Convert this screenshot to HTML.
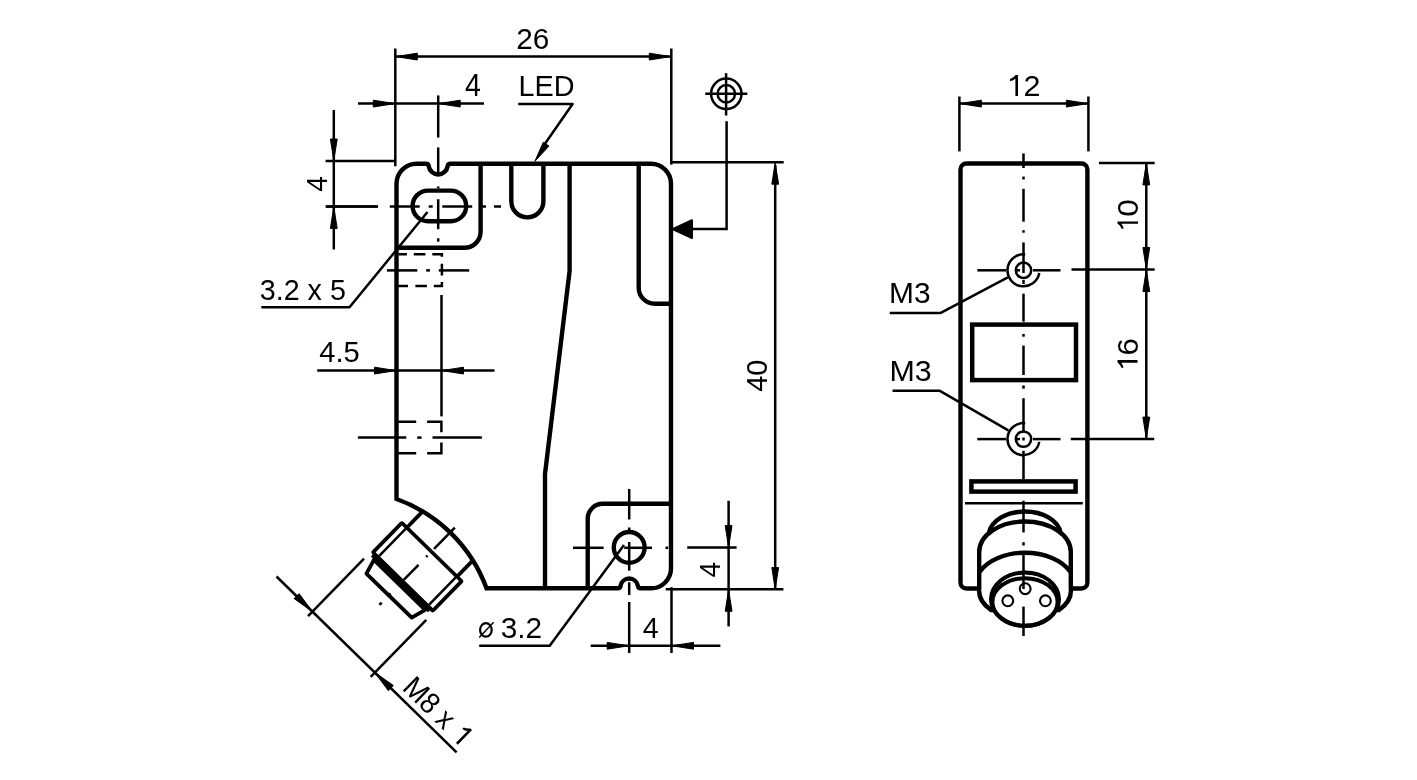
<!DOCTYPE html>
<html><head><meta charset="utf-8"><style>
html,body{margin:0;padding:0;background:#fff;width:1417px;height:780px;overflow:hidden}
svg{display:block;will-change:transform}
text{font-family:"Liberation Sans",sans-serif;fill:#000;stroke:none}
</style></head><body>
<svg width="1417" height="780" viewBox="0 0 1417 780" fill="none" stroke="#000" stroke-linecap="butt">
<path d="M396.5,183.8 A20,20 0 0 1 416.5,163.8 L425.83,163.80 A3,3 0 0 1 428.80,166.37 A9.5,9.5 0 0 0 447.60,166.37 A3,3 0 0 1 450.57,163.80 L651.0,163.8 A20,20 0 0 1 671.0,183.8 L671.0,568.3 A20,20 0 0 1 651.0,588.3 L640.83,588.30 A3,3 0 0 1 637.87,585.81 A8.8,8.8 0 0 0 620.53,585.81 A3,3 0 0 1 617.57,588.30 L486.5,588.3 A149.5,149.5 0 0 0 396.5,499.05 Z" stroke-width="4.4" />
<path d="M480.6,163.8 L480.6,231.8 A16,16 0 0 1 464.6,247.8 L396.5,247.8" stroke-width="4.4" />
<rect x="412.6" y="190.6" width="53.6" height="30.6" rx="15.3" stroke-width="4.4"/>
<path d="M511.3,163.8 L511.3,201.3 A16.05,16.05 0 0 0 543.4,201.3 L543.4,163.8" stroke-width="4.4" />
<path d="M569.6,163.8 L569.6,271 L545,474 L545,588.3" stroke-width="4.4" stroke-linejoin="round"/>
<path d="M638.7,163.8 L638.7,287.7 A16,16 0 0 0 654.7,303.7 L671.0,303.7" stroke-width="4.4" />
<path d="M587.7,588.3 L587.7,518.8 A15,15 0 0 1 602.7,503.8 L671.0,503.8" stroke-width="4.4" />
<circle cx="629.2" cy="547.4" r="15.4" stroke-width="4.4"/>
<path d="M398.5,254.2 H406.9 M413.8,254.2 H425.4 M432.3,254.2 H441.9 V256.8 M441.9,263.8 V275.4 M441.9,282 V285.9 H433.8 M426.9,285.9 H415.4 M408,285.9 H396.5" stroke-width="2.5" />
<path d="M396.5,421.8 H416.2 M427.1,421.8 H441.4 V432.2 M441.4,442.5 V453.2 H427.1 M416.2,453.2 H396.5" stroke-width="2.5" />
<line x1="441.50" y1="295.00" x2="441.50" y2="416.40" stroke-width="2.5" />
<line x1="386.90" y1="270.40" x2="417.30" y2="270.40" stroke-width="2.5" />
<line x1="426.20" y1="270.40" x2="430.00" y2="270.40" stroke-width="2.5" />
<line x1="438.80" y1="270.40" x2="469.20" y2="270.40" stroke-width="2.5" />
<line x1="357.90" y1="437.60" x2="406.30" y2="437.60" stroke-width="2.5" />
<line x1="417.20" y1="437.60" x2="421.60" y2="437.60" stroke-width="2.5" />
<line x1="432.50" y1="437.60" x2="481.90" y2="437.60" stroke-width="2.5" />
<line x1="438.20" y1="95.40" x2="438.20" y2="137.60" stroke-width="2.5" />
<line x1="438.20" y1="147.40" x2="438.20" y2="176.00" stroke-width="2.5" />
<line x1="438.20" y1="186.50" x2="438.20" y2="188.50" stroke-width="2.5" />
<line x1="438.20" y1="199.20" x2="438.20" y2="229.20" stroke-width="2.5" />
<line x1="438.20" y1="238.30" x2="438.20" y2="241.70" stroke-width="2.5" />
<line x1="326.00" y1="206.50" x2="378.00" y2="206.50" stroke-width="2.5" />
<line x1="389.80" y1="206.50" x2="419.70" y2="206.50" stroke-width="2.5" />
<line x1="428.70" y1="206.50" x2="432.70" y2="206.50" stroke-width="2.5" />
<line x1="442.30" y1="206.50" x2="472.20" y2="206.50" stroke-width="2.5" />
<line x1="482.00" y1="206.50" x2="486.00" y2="206.50" stroke-width="2.5" />
<line x1="494.00" y1="206.50" x2="501.00" y2="206.50" stroke-width="2.5" />
<line x1="629.20" y1="489.00" x2="629.20" y2="519.50" stroke-width="2.5" />
<line x1="629.20" y1="527.50" x2="629.20" y2="530.50" stroke-width="2.5" />
<line x1="629.20" y1="542.00" x2="629.20" y2="570.60" stroke-width="2.5" />
<line x1="629.20" y1="582.30" x2="629.20" y2="595.00" stroke-width="2.5" />
<line x1="629.20" y1="602.00" x2="629.20" y2="653.00" stroke-width="2.5" />
<line x1="573.00" y1="547.80" x2="603.60" y2="547.80" stroke-width="2.5" />
<line x1="613.00" y1="547.80" x2="616.00" y2="547.80" stroke-width="2.5" />
<line x1="624.20" y1="547.80" x2="652.00" y2="547.80" stroke-width="2.5" />
<line x1="665.50" y1="547.80" x2="668.20" y2="547.80" stroke-width="2.5" />
<line x1="317.20" y1="370.60" x2="494.50" y2="370.60" stroke-width="2.5" />
<polygon points="396.00,370.60 374.50,374.00 374.50,367.20" fill="#000" stroke="#000" stroke-width="1.0" stroke-linejoin="round"/>
<polygon points="442.00,370.60 463.50,367.20 463.50,374.00" fill="#000" stroke="#000" stroke-width="1.0" stroke-linejoin="round"/>
<text transform="translate(319.33 361.61) scale(0.9746 1)" font-size="29.81">4.5</text>
<line x1="395.30" y1="48.50" x2="395.30" y2="166.30" stroke-width="2.5" />
<line x1="671.30" y1="48.50" x2="671.30" y2="164.60" stroke-width="2.5" />
<line x1="395.30" y1="56.60" x2="671.30" y2="56.60" stroke-width="2.5" />
<polygon points="395.80,56.60 417.30,53.20 417.30,60.00" fill="#000" stroke="#000" stroke-width="1.0" stroke-linejoin="round"/>
<polygon points="670.80,56.60 649.30,60.00 649.30,53.20" fill="#000" stroke="#000" stroke-width="1.0" stroke-linejoin="round"/>
<text transform="translate(516.30 48.61) scale(1.0180 1)" font-size="29.24">26</text>
<line x1="358.00" y1="103.60" x2="484.00" y2="103.60" stroke-width="2.5" />
<polygon points="394.80,103.60 373.30,107.00 373.30,100.20" fill="#000" stroke="#000" stroke-width="1.0" stroke-linejoin="round"/>
<polygon points="438.70,103.60 460.20,100.20 460.20,107.00" fill="#000" stroke="#000" stroke-width="1.0" stroke-linejoin="round"/>
<text transform="translate(464.94 95.80) scale(0.9362 1)" font-size="30.52">4</text>
<line x1="325.60" y1="161.00" x2="395.30" y2="161.00" stroke-width="2.5" />
<line x1="325.60" y1="206.50" x2="378.00" y2="206.50" stroke-width="2.5" />
<line x1="333.80" y1="110.00" x2="333.80" y2="249.50" stroke-width="2.5" />
<polygon points="333.80,160.50 330.40,139.00 337.20,139.00" fill="#000" stroke="#000" stroke-width="1.0" stroke-linejoin="round"/>
<polygon points="333.80,207.00 337.20,228.50 330.40,228.50" fill="#000" stroke="#000" stroke-width="1.0" stroke-linejoin="round"/>
<text transform="translate(327.20 191.64) rotate(-90) scale(0.9625 1)" font-size="29.07">4</text>
<text transform="translate(259.81 299.61) scale(0.9669 1)" font-size="29.66">3.2 x 5</text>
<path d="M261.3,307.3 L349.5,307.3 L427.5,212" stroke-width="2.5" stroke-linejoin="round"/>
<text transform="translate(518.54 95.90) scale(0.9668 1)" font-size="29.80">LED</text>
<path d="M518.2,104 L572.6,104 L542,148" stroke-width="2.5" stroke-linejoin="round"/>
<polygon points="534.88,161.28 543.31,142.29 548.99,146.03" fill="#000" stroke="#000" stroke-width="1.0" stroke-linejoin="round"/>
<circle cx="726.3" cy="93.8" r="15.2" stroke-width="2.5"/>
<circle cx="726.3" cy="93.8" r="8.7" stroke-width="2.5"/>
<line x1="705.30" y1="93.80" x2="747.30" y2="93.80" stroke-width="2.5" />
<line x1="726.10" y1="73.20" x2="726.10" y2="115.50" stroke-width="2.5" />
<path d="M726.6,121.3 L726.6,229.1 L690,229.1" stroke-width="2.5" />
<polygon points="672.5,229.1 692,220.2 692,238" fill="#000" stroke="#000" stroke-width="2" stroke-linejoin="round"/>
<line x1="671.30" y1="162.20" x2="783.70" y2="162.20" stroke-width="2.5" />
<line x1="775.20" y1="165.00" x2="775.20" y2="589.50" stroke-width="2.5" />
<polygon points="775.20,162.70 778.60,184.20 771.80,184.20" fill="#000" stroke="#000" stroke-width="1.0" stroke-linejoin="round"/>
<polygon points="775.20,589.00 771.80,567.50 778.60,567.50" fill="#000" stroke="#000" stroke-width="1.0" stroke-linejoin="round"/>
<line x1="665.80" y1="589.30" x2="783.40" y2="589.30" stroke-width="2.5" />
<text transform="translate(767.01 391.86) rotate(-90) scale(0.9852 1)" font-size="29.38">40</text>
<line x1="728.60" y1="500.80" x2="728.60" y2="626.40" stroke-width="2.5" />
<line x1="687.20" y1="547.60" x2="736.60" y2="547.60" stroke-width="2.5" />
<polygon points="728.60,547.10 725.20,525.60 732.00,525.60" fill="#000" stroke="#000" stroke-width="1.0" stroke-linejoin="round"/>
<polygon points="728.60,589.80 732.00,611.30 725.20,611.30" fill="#000" stroke="#000" stroke-width="1.0" stroke-linejoin="round"/>
<text transform="translate(720.30 577.54) rotate(-90) scale(0.9483 1)" font-size="29.51">4</text>
<line x1="671.50" y1="587.20" x2="671.50" y2="653.00" stroke-width="2.5" />
<line x1="590.70" y1="645.80" x2="720.40" y2="645.80" stroke-width="2.5" />
<polygon points="628.70,645.80 607.20,649.20 607.20,642.40" fill="#000" stroke="#000" stroke-width="1.0" stroke-linejoin="round"/>
<polygon points="672.00,645.80 693.50,642.40 693.50,649.20" fill="#000" stroke="#000" stroke-width="1.0" stroke-linejoin="round"/>
<text transform="translate(642.64 637.70) scale(0.9685 1)" font-size="29.51">4</text>
<ellipse cx="485.9" cy="629.9" rx="5.8" ry="6.75" stroke-width="2.2"/>
<line x1="479.20" y1="637.50" x2="493.60" y2="622.30" stroke-width="1.4" />
<text transform="translate(500.66 637.92) scale(1.0294 1)" font-size="28.95">3.2</text>
<path d="M479.2,645.8 L549.7,645.8 L624,545" stroke-width="2.5" stroke-linejoin="round"/>
<g transform="rotate(44.3)">
<line x1="659.70" y1="71.50" x2="659.70" y2="94.00" stroke-width="3.8" />
<line x1="729.80" y1="71.50" x2="729.80" y2="94.00" stroke-width="3.8" />
<rect x="652.75" y="93.5" width="83.6" height="41.3" rx="1" stroke-width="3.8"/>
<line x1="659.70" y1="95.00" x2="659.70" y2="133.00" stroke-width="2.5" />
<line x1="729.50" y1="95.00" x2="729.50" y2="133.00" stroke-width="2.5" />
<path d="M658.6,139.5 L662.8,154.6 L726,154.4 L730.2,139.5 Z" stroke-width="3.8" stroke-linejoin="round"/>
<line x1="654.00" y1="137.30" x2="734.00" y2="137.30" stroke-width="3.8" />
<line x1="694.00" y1="59.90" x2="694.00" y2="89.70" stroke-width="2.5" />
<line x1="694.00" y1="99.00" x2="694.00" y2="101.00" stroke-width="2.5" />
<line x1="694.00" y1="111.90" x2="694.00" y2="133.10" stroke-width="2.5" />
<line x1="694.00" y1="152.00" x2="694.00" y2="154.00" stroke-width="2.5" />
<line x1="694.00" y1="164.60" x2="694.00" y2="168.00" stroke-width="2.5" />
<line x1="650.75" y1="145.60" x2="650.75" y2="225.80" stroke-width="2.5" />
<line x1="738.10" y1="146.00" x2="738.10" y2="225.60" stroke-width="2.5" />
<line x1="600.50" y1="219.50" x2="852.20" y2="219.50" stroke-width="2.5" />
<polygon points="650.25,219.50 628.75,222.90 628.75,216.10" fill="#000" stroke="#000" stroke-width="1.0" stroke-linejoin="round"/>
<polygon points="738.60,219.50 760.10,216.10 760.10,222.90" fill="#000" stroke="#000" stroke-width="1.0" stroke-linejoin="round"/>
<text transform="translate(768.25 212.91) scale(0.9309 1)" font-size="29.52">M8 x</text>
<path d="M847.70,192.80 L847.70,213.20 L845.16,213.20 L845.16,196.57 Q843.20,198.31 840.00,198.92 L840.00,196.88 Q843.61,195.35 845.39,192.80 Z" fill="#000" stroke="none"/>
</g>
<path d="M979.2,588.5 L966.5,588.5 A6,6 0 0 1 960.5,582.5 L960.5,169.5 A6,6 0 0 1 966.5,163.5 L1081.4,163.5 A6,6 0 0 1 1087.4,169.5 L1087.4,582.5 A6,6 0 0 1 1081.4,588.5 L1070.8,588.5" stroke-width="4.4" />
<rect x="972.2" y="324.6" width="103.8" height="55.5" stroke-width="4.5"/>
<rect x="971.4" y="481.4" width="104.2" height="10.2" stroke-width="4.5"/>
<line x1="965.00" y1="503.30" x2="1082.80" y2="503.30" stroke-width="2.5" />
<line x1="959.40" y1="96.50" x2="959.40" y2="151.40" stroke-width="2.5" />
<line x1="1088.40" y1="96.50" x2="1088.40" y2="151.40" stroke-width="2.5" />
<line x1="959.40" y1="103.60" x2="1088.40" y2="103.60" stroke-width="2.5" />
<polygon points="959.90,103.60 981.40,100.20 981.40,107.00" fill="#000" stroke="#000" stroke-width="1.0" stroke-linejoin="round"/>
<polygon points="1087.90,103.60 1066.40,107.00 1066.40,100.20" fill="#000" stroke="#000" stroke-width="1.0" stroke-linejoin="round"/>
<path d="M1018.00,74.90 L1018.00,95.90 L1015.40,95.90 L1015.40,78.79 Q1013.35,80.57 1010.00,81.20 L1010.00,79.10 Q1013.78,77.53 1015.64,74.90 Z" fill="#000" stroke="none"/>
<text transform="translate(1023.57 95.90) scale(1.0145 1)" font-size="30.08">2</text>
<line x1="1099.00" y1="162.90" x2="1154.70" y2="162.90" stroke-width="2.5" />
<line x1="1071.50" y1="269.50" x2="1154.70" y2="269.50" stroke-width="2.5" />
<line x1="1070.80" y1="439.10" x2="1154.20" y2="439.10" stroke-width="2.5" />
<line x1="1146.30" y1="162.90" x2="1146.30" y2="439.10" stroke-width="2.5" />
<polygon points="1146.30,163.40 1149.70,184.90 1142.90,184.90" fill="#000" stroke="#000" stroke-width="1.0" stroke-linejoin="round"/>
<polygon points="1146.30,269.00 1142.90,247.50 1149.70,247.50" fill="#000" stroke="#000" stroke-width="1.0" stroke-linejoin="round"/>
<polygon points="1146.30,270.00 1149.70,291.50 1142.90,291.50" fill="#000" stroke="#000" stroke-width="1.0" stroke-linejoin="round"/>
<polygon points="1146.30,438.60 1142.90,417.10 1149.70,417.10" fill="#000" stroke="#000" stroke-width="1.0" stroke-linejoin="round"/>
<text transform="translate(1138.41 216.83) rotate(-90) scale(1.0480 1)" font-size="29.94">0</text>
<path d="M-221.40,1117.50 L-221.40,1138.00 L-223.84,1138.00 L-223.84,1121.29 Q-225.73,1123.04 -228.80,1123.65 L-228.80,1121.60 Q-225.33,1120.06 -223.62,1117.50 Z" fill="#000" stroke="none" transform="rotate(-90)"/>
<text transform="translate(1138.01 355.58) rotate(-90) scale(1.0623 1)" font-size="29.38">6</text>
<path d="M-360.10,1117.50 L-360.10,1137.50 L-362.64,1137.50 L-362.64,1121.20 Q-364.60,1122.90 -367.80,1123.50 L-367.80,1121.50 Q-364.19,1120.00 -362.41,1117.50 Z" fill="#000" stroke="none" transform="rotate(-90)"/>
<circle cx="1023.5" cy="270.3" r="7.7" stroke-width="2.5"/>
<path d="M1025.2,254.40 A16,16 0 1 0 1039.26,273.08" stroke-width="2.5"/>
<line x1="977.30" y1="270.30" x2="1006.00" y2="270.30" stroke-width="2.5" />
<line x1="1017.00" y1="270.30" x2="1020.00" y2="270.30" stroke-width="2.5" />
<line x1="1033.00" y1="270.30" x2="1060.50" y2="270.30" stroke-width="2.5" />
<circle cx="1023.5" cy="439.1" r="7.7" stroke-width="2.5"/>
<path d="M1025.2,423.20 A16,16 0 1 0 1039.26,441.88" stroke-width="2.5"/>
<line x1="977.30" y1="439.10" x2="1006.00" y2="439.10" stroke-width="2.5" />
<line x1="1017.00" y1="439.10" x2="1020.00" y2="439.10" stroke-width="2.5" />
<line x1="1033.00" y1="439.10" x2="1060.50" y2="439.10" stroke-width="2.5" />
<text transform="translate(889.05 302.71) scale(1.0041 1)" font-size="29.80">M3</text>
<path d="M889.8,313.1 L940.3,313.1 L1007.8,277.4" stroke-width="2.5" stroke-linejoin="round"/>
<text transform="translate(889.41 380.61) scale(1.0249 1)" font-size="29.66">M3</text>
<path d="M892.5,390.8 L939.9,390.8 L1008.3,430.4" stroke-width="2.5" stroke-linejoin="round"/>
<path d="M989,533 A36,24 0 0 1 1060.6,533" stroke-width="4.4"/>
<path d="M979.2,588 L979.2,552 A45.8,30.5 0 0 1 1070.8,552 L1070.8,588 A45.8,29.3 0 0 1 1059,610 L991,610 A45.8,29.3 0 0 1 979.2,588 Z" stroke-width="4.4" fill="#fff"/>
<path d="M979.5,572 A50,33 0 0 1 1070.5,572" stroke-width="4.4"/>
<ellipse cx="1025" cy="599.2" rx="33.9" ry="26.6" stroke-width="4.2" fill="#fff"/>
<ellipse cx="1025" cy="602" rx="32.6" ry="23.8" stroke-width="4.0"/>
<path d="M1002,582.3 A32.6,24.6 0 0 1 1048,582.3" stroke="#fff" stroke-width="0.7"/>
<circle cx="1025.2" cy="588.7" r="5.4" stroke-width="2.1"/>
<circle cx="1007.8" cy="600.8" r="5.4" stroke-width="2.1"/>
<circle cx="1045.4" cy="600.8" r="5.4" stroke-width="2.1"/>
<line x1="1023.50" y1="153.40" x2="1023.50" y2="168.00" stroke-width="2.5" />
<line x1="1023.50" y1="176.60" x2="1023.50" y2="179.50" stroke-width="2.5" />
<line x1="1023.50" y1="188.80" x2="1023.50" y2="221.70" stroke-width="2.5" />
<line x1="1023.50" y1="230.20" x2="1023.50" y2="232.70" stroke-width="2.5" />
<line x1="1023.50" y1="242.40" x2="1023.50" y2="273.00" stroke-width="2.5" />
<line x1="1023.50" y1="280.00" x2="1023.50" y2="284.00" stroke-width="2.5" />
<line x1="1023.50" y1="293.70" x2="1023.50" y2="321.70" stroke-width="2.5" />
<line x1="1023.50" y1="334.00" x2="1023.50" y2="336.70" stroke-width="2.5" />
<line x1="1023.50" y1="345.60" x2="1023.50" y2="375.00" stroke-width="2.5" />
<line x1="1023.50" y1="385.40" x2="1023.50" y2="388.70" stroke-width="2.5" />
<line x1="1023.50" y1="398.20" x2="1023.50" y2="432.80" stroke-width="2.5" />
<line x1="1023.50" y1="437.50" x2="1023.50" y2="440.50" stroke-width="2.5" />
<line x1="1023.50" y1="450.80" x2="1023.50" y2="479.00" stroke-width="2.5" />
<line x1="1023.50" y1="500.70" x2="1023.50" y2="532.40" stroke-width="2.5" />
<line x1="1023.50" y1="542.20" x2="1023.50" y2="545.50" stroke-width="2.5" />
<line x1="1023.50" y1="553.10" x2="1023.50" y2="589.00" stroke-width="2.5" />
<line x1="1023.50" y1="606.60" x2="1023.50" y2="636.00" stroke-width="2.5" />
</svg>
</body></html>
